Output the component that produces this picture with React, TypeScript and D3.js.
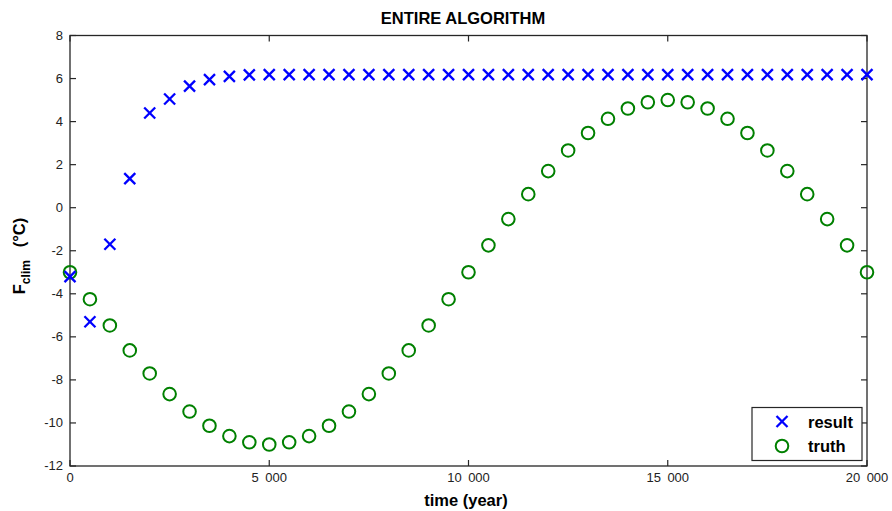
import React from "react";
import * as d3 from "d3";

const times = [
  0, 500, 1000, 1500, 2000, 2500, 3000, 3500, 4000, 4500, 5000, 5500, 6000, 6500, 7000, 7500, 8000,
  8500, 9000, 9500, 10000, 10500, 11000, 11500, 12000, 12500, 13000, 13500, 14000, 14500, 15000,
  15500, 16000, 16500, 17000, 17500, 18000, 18500, 19000, 19500, 20000,
];
const resultValues = [
  -3.2, -5.3, -1.7, 1.35, 4.4, 5.05, 5.65, 5.95, 6.1, 6.17, 6.18, 6.18, 6.18, 6.18, 6.18, 6.18, 6.18,
  6.18, 6.18, 6.18, 6.18, 6.18, 6.18, 6.18, 6.18, 6.18, 6.18, 6.18, 6.18, 6.18, 6.18, 6.18, 6.18,
  6.18, 6.18, 6.18, 6.18, 6.18, 6.18, 6.18, 6.18,
];
const truthValues = [
  -3, -4.25, -5.47, -6.63, -7.7, -8.66, -9.47, -10.13, -10.61, -10.9, -11, -10.9, -10.61, -10.13,
  -9.47, -8.66, -7.7, -6.63, -5.47, -4.25, -3, -1.75, -0.53, 0.63, 1.7, 2.66, 3.47, 4.13, 4.61, 4.9,
  5, 4.9, 4.61, 4.13, 3.47, 2.66, 1.7, 0.63, -0.53, -1.75, -3,
];
const xTicks = [0, 5000, 10000, 15000, 20000];
const xTickLabels = ["0", "5\u2002000", "10\u2002000", "15\u2002000", "20\u2002000"];
const yTicks = [-12, -10, -8, -6, -4, -2, 0, 2, 4, 6, 8];
const legendLabels = ["result", "truth"];

const W = 892;
const H = 511;
const L = 70, R = 867, T = 35.5, B = 466;
const FONT = "'Liberation Sans', Arial, Helvetica, sans-serif";
const AX = "#262626";

export default function App() {
  const x = d3.scaleLinear().domain([0, 20000]).range([L, R]);
  const y = d3.scaleLinear().domain([-12, 8]).range([B, T]);
  const tk = 6;
  const xs = 5.5;
  const cross = (cx: number, cy: number, key: string | number, sw = 2.3) => (
    <g key={key} stroke="#0000ff" strokeWidth={sw}>
      <line x1={cx - xs} y1={cy - xs} x2={cx + xs} y2={cy + xs} />
      <line x1={cx - xs} y1={cy + xs} x2={cx + xs} y2={cy - xs} />
    </g>
  );
  const lx0 = 752, ly0 = 407.5, lw = 110, lh = 53;
  return (
    <div style={{ position: "absolute", left: 0, top: 0, width: W, height: H }}>
      <svg width={W} height={H} style={{ display: "block", background: "#fff" }}>
        <rect x={0} y={0} width={W} height={H} fill="#fff" />
        <rect x={L} y={T} width={R - L} height={B - T} fill="none" stroke={AX} strokeWidth={1.3} />
        {xTicks.map((t, i) => (
          <g key={"xt" + i}>
            <line x1={x(t)} x2={x(t)} y1={B} y2={B - tk} stroke={AX} strokeWidth={1.2} />
            <line x1={x(t)} x2={x(t)} y1={T} y2={T + tk} stroke={AX} strokeWidth={1.2} />
            <text x={x(t)} y={482} textAnchor="middle" fontFamily={FONT} fontSize={13} fill="#222">
              {xTickLabels[i]}
            </text>
          </g>
        ))}
        {yTicks.map((t, i) => (
          <g key={"yt" + i}>
            <line x1={L} x2={L + tk} y1={y(t)} y2={y(t)} stroke={AX} strokeWidth={1.2} />
            <line x1={R} x2={R - tk} y1={y(t)} y2={y(t)} stroke={AX} strokeWidth={1.2} />
            <text x={63} y={y(t) + 4} textAnchor="end" fontFamily={FONT} fontSize={13} fill="#222">
              {t}
            </text>
          </g>
        ))}
        {times.map((t, i) => (
          <circle key={"c" + i} cx={x(t)} cy={y(truthValues[i])} r={6.3} fill="none" stroke="#008000" strokeWidth={2} />
        ))}
        {times.map((t, i) => cross(x(t), y(resultValues[i]), "r" + i))}
        <text x={463} y={24} textAnchor="middle" fontFamily={FONT} fontSize={16.5} fontWeight="bold" fill="#000">
          ENTIRE ALGORITHM
        </text>
        <text x={466} y={506} textAnchor="middle" fontFamily={FONT} fontSize={16.5} fontWeight="bold" fill="#000">
          time (year)
        </text>
        <text transform="translate(25,256) rotate(-90)" textAnchor="middle" fontFamily={FONT} fontSize={16.5} fontWeight="bold" fill="#000">
          F<tspan fontSize={12} dy={5}>clim</tspan>
          <tspan dy={-5}>{"\u2002\u00a0(\u00b0C)"}</tspan>
        </text>
        <rect x={lx0} y={ly0} width={lw} height={lh} fill="#fff" stroke={AX} strokeWidth={1.2} />
        {cross(782, 421.5, "lg")}
        <circle cx={782} cy={446} r={6.3} fill="none" stroke="#008000" strokeWidth={2} />
        <text x={808} y={428} fontFamily={FONT} fontSize={16.5} fontWeight="bold" fill="#000">
          {legendLabels[0]}
        </text>
        <text x={808} y={452} fontFamily={FONT} fontSize={16.5} fontWeight="bold" fill="#000">
          {legendLabels[1]}
        </text>
      </svg>
    </div>
  );
}
